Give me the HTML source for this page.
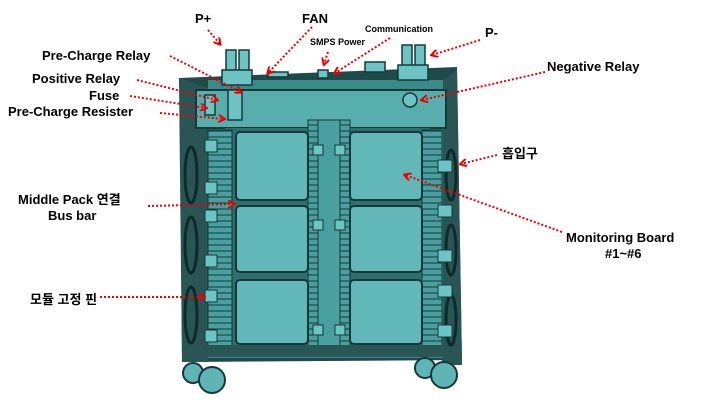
<!DOCTYPE html>
<html><head><meta charset="utf-8"><style>
html,body{margin:0;padding:0;background:#fff;width:711px;height:404px;overflow:hidden}
text{font-family:"Liberation Sans","Noto Sans CJK KR",sans-serif;font-weight:bold;fill:#000}
</style></head><body>
<svg width="711" height="404" viewBox="0 0 711 404" xmlns="http://www.w3.org/2000/svg">
<defs>
<marker id="a" markerWidth="8" markerHeight="8" refX="6" refY="4" orient="auto" markerUnits="userSpaceOnUse">
<path d="M0,0 L7,4 L0,8" fill="none" stroke="#e00" stroke-width="2"/></marker>
<pattern id="lad" width="6" height="6" patternUnits="userSpaceOnUse">
<rect width="6" height="6" fill="#4aa0a0"/><line x1="0" y1="5" x2="6" y2="5" stroke="#163838" stroke-width="1"/></pattern>
</defs>
<!-- body -->
<polygon points="179,78 457,67 462,360 182,362" fill="#1f4a4a"/>
<polygon points="180,78 208,88 208,362 182,362" fill="#2a5555"/>
<polygon points="440,82 457,70 462,365 442,365" fill="#2a5555"/>
<rect x="208" y="80" width="235" height="278" fill="#3a8a8a"/>
<rect x="196" y="90" width="250" height="38" fill="#58adad" stroke="#163838" stroke-width="2"/>
<rect x="225" y="128" width="205" height="225" fill="#2f6e6e"/>
<!-- vent patterns -->
<g fill="none" stroke="#0f2a2a" stroke-width="3">
<ellipse cx="191" cy="175" rx="6" ry="28"/><ellipse cx="191" cy="245" rx="6" ry="28"/><ellipse cx="191" cy="315" rx="6" ry="28"/>
<ellipse cx="451" cy="175" rx="5" ry="25"/><ellipse cx="451" cy="250" rx="5" ry="25"/><ellipse cx="451" cy="320" rx="5" ry="25"/>
</g>
<!-- rails -->
<rect x="208" y="130" width="24" height="225" fill="url(#lad)" stroke="#163838"/>
<rect x="308" y="120" width="42" height="235" fill="url(#lad)" stroke="#163838"/>
<rect x="318" y="120" width="22" height="235" fill="#4aa0a0" stroke="#163838"/>
<rect x="422" y="130" width="20" height="225" fill="url(#lad)" stroke="#163838"/>
<g fill="#6cc4c4" stroke="#163838">
<rect x="205" y="140" width="12" height="12"/><rect x="205" y="182" width="12" height="12"/><rect x="205" y="210" width="12" height="12"/><rect x="205" y="255" width="12" height="12"/><rect x="205" y="290" width="12" height="12"/><rect x="205" y="330" width="12" height="12"/>
<rect x="438" y="160" width="14" height="12"/><rect x="438" y="205" width="14" height="12"/><rect x="438" y="250" width="14" height="12"/><rect x="438" y="285" width="14" height="12"/><rect x="438" y="325" width="14" height="12"/>
<rect x="313" y="145" width="10" height="10"/><rect x="335" y="145" width="10" height="10"/><rect x="313" y="220" width="10" height="10"/><rect x="335" y="220" width="10" height="10"/><rect x="313" y="325" width="10" height="10"/><rect x="335" y="325" width="10" height="10"/>
</g>
<!-- boards -->
<g fill="#62b8b8" stroke="#163838" stroke-width="2">
<rect x="236" y="132" width="72" height="68" rx="4"/>
<rect x="350" y="132" width="72" height="68" rx="4"/>
<rect x="236" y="206" width="72" height="66" rx="4"/>
<rect x="350" y="206" width="72" height="66" rx="4"/>
<rect x="236" y="280" width="72" height="64" rx="4"/>
<rect x="350" y="280" width="72" height="64" rx="4"/>
</g>
<rect x="205" y="345" width="240" height="12" fill="#2a5555"/>
<!-- top connectors -->
<g fill="#6cc4c4" stroke="#163838" stroke-width="1.5">
<rect x="226" y="50" width="10" height="25"/><rect x="239" y="50" width="10" height="25"/>
<rect x="222" y="70" width="30" height="15"/>
<rect x="402" y="45" width="10" height="25"/><rect x="415" y="45" width="10" height="25"/>
<rect x="398" y="65" width="30" height="15"/>
<rect x="318" y="70" width="10" height="8"/><rect x="365" y="62" width="20" height="10"/>
<rect x="268" y="72" width="20" height="5"/>
<circle cx="410" cy="100" r="7"/>
<rect x="205" y="95" width="10" height="20"/>
<rect x="228" y="90" width="14" height="30"/>
</g>
<!-- wheels -->
<g fill="#5fb5b5" stroke="#163838" stroke-width="2">
<circle cx="193" cy="373" r="10"/><circle cx="212" cy="380" r="13"/>
<circle cx="425" cy="368" r="10"/><circle cx="444" cy="375" r="13"/>
</g>
<!-- labels -->
<g font-size="13">
<text x="195" y="23">P+</text>
<text x="302" y="23">FAN</text>
<text x="485" y="37">P-</text>
<text x="42" y="60">Pre-Charge Relay</text>
<text x="32" y="83">Positive Relay</text>
<text x="89" y="100">Fuse</text>
<text x="8" y="116">Pre-Charge Resister</text>
<text x="547" y="71">Negative Relay</text>
<text x="502" y="158">흡입구</text>
<text x="18" y="204">Middle Pack 연결</text>
<text x="48" y="220">Bus bar</text>
<text x="566" y="242">Monitoring Board</text>
<text x="605" y="258">#1~#6</text>
<text x="30" y="304">모듈 고정 핀</text>
</g>
<text x="365" y="32" font-size="9" font-weight="normal">Communication</text>
<text x="310" y="45" font-size="9" font-weight="normal">SMPS Power</text>
<!-- arrows -->
<g stroke="#e00" stroke-width="2" stroke-dasharray="2,2" fill="none" marker-end="url(#a)">
<line x1="208" y1="30" x2="220" y2="44"/>
<line x1="312" y1="27" x2="268" y2="73"/>
<line x1="328" y1="52" x2="324" y2="64"/>
<line x1="390" y1="38" x2="335" y2="73"/>
<line x1="480" y1="40" x2="432" y2="55"/>
<line x1="170" y1="56" x2="241" y2="92"/>
<line x1="137" y1="80" x2="217" y2="100"/>
<line x1="130" y1="96" x2="206" y2="108"/>
<line x1="160" y1="113" x2="224" y2="119"/>
<line x1="545" y1="72" x2="422" y2="100"/>
<line x1="497" y1="155" x2="461" y2="164"/>
<line x1="148" y1="206" x2="234" y2="204"/>
<line x1="562" y1="232" x2="405" y2="175"/>
<line x1="100" y1="297" x2="204" y2="297"/>
</g>
</svg>
</body></html>
